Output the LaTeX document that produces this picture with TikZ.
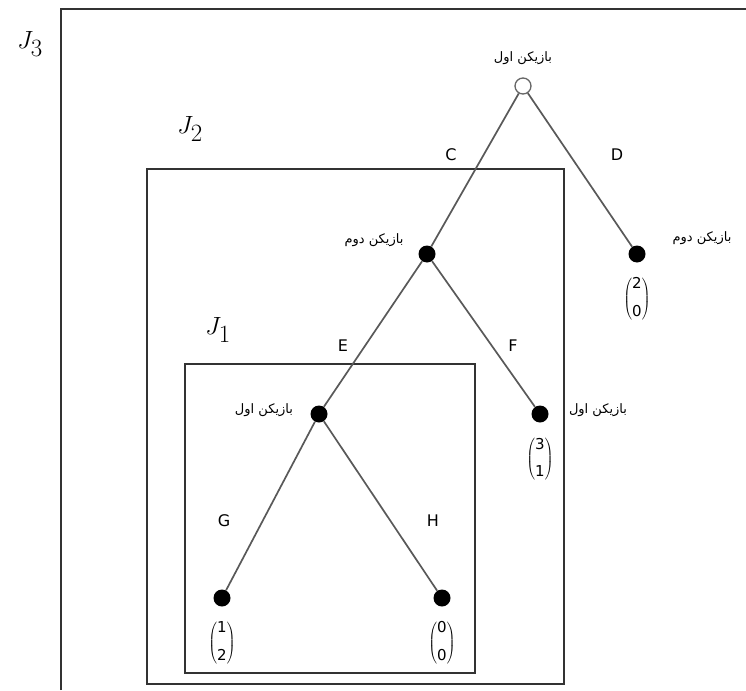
\documentclass[tikz,border=0pt]{standalone}
\usepackage{fontspec}
\setmainfont{DejaVu Sans}
\newfontfamily\arabicfont[Script=Arabic]{DejaVu Sans}
\TeXXeTstate=1
\newcommand{\pone}{{\arabicfont\fontsize{13}{15}\selectfont\beginR بازیکن اول\endR}}
\newcommand{\ptwo}{{\arabicfont\fontsize{13}{15}\selectfont\beginR بازیکن دوم\endR}}
\newcommand{\payoff}[2]{$\left(\vcenter{\hbox{\begin{tabular}{@{}c@{}}\fontsize{15}{17}\selectfont #1\\[13pt]\fontsize{15}{17}\selectfont #2\end{tabular}}}\right)$}
\begin{document}
\begin{tikzpicture}[x=1pt,y=-1pt,
  box/.style={draw=black!80,line width=1.5pt},
  edge/.style={draw=black!65,line width=1.7pt},
  opennode/.style={circle,draw=black!60,line width=1.3pt,fill=white,minimum size=16pt,inner sep=0pt},
  leafnode/.style={circle,fill=black,minimum size=17pt,inner sep=0pt},
  lbl/.style={font=\fontsize{16}{18}\selectfont},
  jlbl/.style={font=\fontsize{34}{38}\selectfont}]
\useasboundingbox (0,0) rectangle (746,690);
% boxes
\draw[box] (61,690) -- (61,9) -- (746,9);
\draw[box] (147,169) rectangle (564,684);
\draw[box] (185,364) rectangle (475,673);
% nodes
\node[opennode] (root) at (523,86) {};
\node[leafnode] (p2) at (427,254) {};
\node[leafnode] (d) at (637,254) {};
\node[leafnode] (p1) at (319,414) {};
\node[leafnode] (f) at (540,414) {};
\node[leafnode] (g) at (222,598) {};
\node[leafnode] (h) at (442,598) {};
% edges
\draw[edge] (root) -- (p2);
\draw[edge] (root) -- (d);
\draw[edge] (p2) -- (p1);
\draw[edge] (p2) -- (f);
\draw[edge] (p1) -- (g);
\draw[edge] (p1) -- (h);
% player labels
\node (lroot) at (523,58) {\pone};
\node (lp2) at (374,240) {\ptwo};
\node (ld) at (702,238) {\ptwo};
\node (lp1) at (264,410) {\pone};
\node (lf) at (598,410) {\pone};
% action labels
\node[lbl] (ac) at (451,155) {C};
\node[lbl] (ad) at (617,155) {D};
\node[lbl] (ae) at (343,346) {E};
\node[lbl] (af) at (513,346) {F};
\node[lbl] (ag) at (224,521) {G};
\node[lbl] (ah) at (433,521) {H};
% payoffs
\node (pd) at (637,299) {\payoff{2}{0}};
\node (pf) at (540,459) {\payoff{3}{1}};
\node (pg) at (222,643) {\payoff{1}{2}};
\node (ph) at (442,643) {\payoff{0}{0}};
% J labels
\node[jlbl] (j3) at (30,44) {$J_3$};
\node[jlbl] (j2) at (190,129) {$J_2$};
\node[jlbl] (j1) at (218,330) {$J_1$};
\end{tikzpicture}
\end{document}
